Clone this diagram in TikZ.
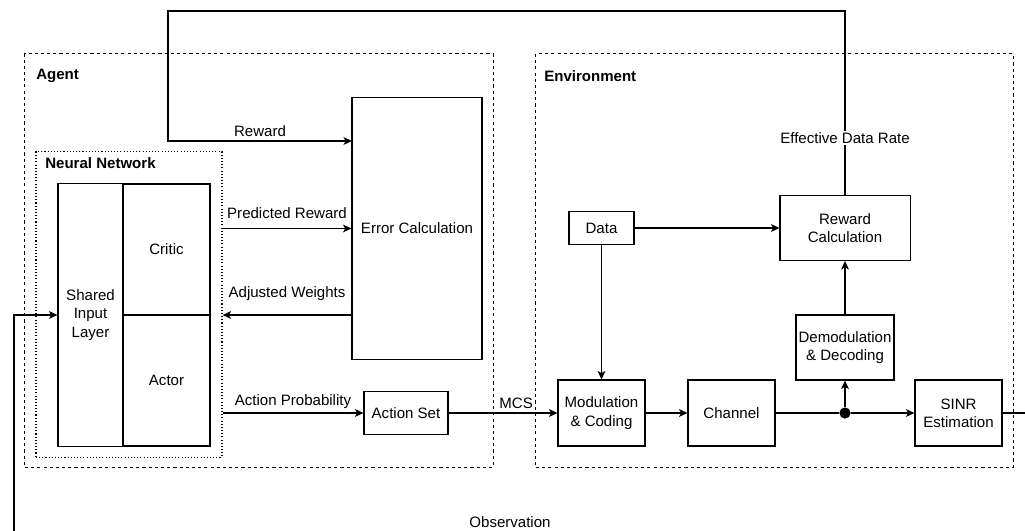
\documentclass[tikz,border=0pt]{standalone}
\usepackage{fontspec}
\setmainfont{Liberation Sans}
\usetikzlibrary{arrows.meta,positioning}

\tikzset{
  blk/.style={draw, line width=0.75pt, align=center, inner sep=1pt,
    font=\fontsize{10.7}{13}\selectfont},
  lbl/.style={font=\fontsize{10.7}{13}\selectfont, inner sep=1pt},
  title/.style={font=\fontsize{10.7}{13}\selectfont\bfseries, inner sep=0pt, anchor=west},
  region/.style={draw, line width=0.75pt, dash pattern=on 2.2pt off 2.2pt},
  nnregion/.style={draw, line width=0.75pt, dash pattern=on 0.75pt off 1.5pt},
  wire/.style={line width=0.75pt},
  flow/.style={wire, -{Stealth[length=6pt,width=5.5pt,inset=1.5pt]}},
  junction/.style={circle, fill, inner sep=0pt, minimum size=0.28cm},
}

\begin{document}
\begin{tikzpicture}[x=0.025cm, y=-0.025cm]
    \useasboundingbox (0,0) rectangle (1025,531);

    % Zones
    \node[region, minimum width=11.7cm, minimum height=10.325cm] (agent) at (259,260.5) {};
    \node[region, minimum width=11.925cm, minimum height=10.325cm] (env) at (774.5,260.5) {};
    \node[nnregion, minimum width=4.65cm, minimum height=7.625cm] (nn) at (129,304.5) {};

    \node[title] (agenttitle) at (36,76) {Agent};
    \node[title] (envtitle) at (544,76) {Environment};
    \node[title] (nntitle) at (45,163) {Neural Network};

    % Blocs de l'agent
    \node[blk, minimum width=1.625cm, minimum height=6.55cm] (shared) at (90.5,315) {Shared\\Input\\Layer};
    \node[blk, minimum width=2.175cm, minimum height=3.275cm] (critic) at (166.5,249.5) {Critic};
    \node[blk, minimum width=2.175cm, minimum height=3.275cm] (actor) at (166.5,380.5) {Actor};
    \node[blk, minimum width=3.25cm, minimum height=6.525cm] (err) at (417,228.5) {Error Calculation};
    \node[blk, minimum width=2.1cm, minimum height=1.075cm] (actset) at (406,413) {Action Set};

    % Blocs de l'environnement
    \node[blk, minimum width=1.625cm, minimum height=0.825cm] (data) at (601.5,228) {Data};
    \node[blk, minimum width=3.25cm, minimum height=1.625cm] (rcalc) at (845,228) {Reward\\Calculation};
    \node[blk, minimum width=2.175cm, minimum height=1.65cm] (modcod) at (601.5,413) {Modulation\\\& Coding};
    \node[blk, minimum width=2.175cm, minimum height=1.65cm] (channel) at (731.5,413) {Channel};
    \node[blk, minimum width=2.45cm, minimum height=1.625cm] (demod) at (845,347.5) {Demodulation\\\& Decoding};
    \node[blk, minimum width=2.175cm, minimum height=1.65cm] (sinr) at (958.5,413) {SINR\\Estimation};
    \node[junction] (split) at (845,413) {};

    % Liaisons dans l'agent
    \draw[flow] (nn.east |- err.west) -- node[lbl, above=5.3pt] (predlbl) {Predicted Reward} (err.west);
    \draw[flow] (err.west |- shared.east) -- node[lbl, above=8.9pt] (adjlbl) {Adjusted Weights} (nn.east |- shared.east);
    \draw[flow] (nn.east |- actset.west) -- node[lbl, above=1.8pt] (problbl) {Action Probability} (actset.west);
    \draw[flow] (actset.east) -- node[lbl, above=1.8pt, pos=0.62] (mcslbl) {MCS} (modcod.west);

    % Liaisons dans l'environnement
    \draw[flow] (data.east) -- (rcalc.west);
    \draw[flow] (data.south) -- (modcod.north);
    \draw[flow] (modcod.east) -- (channel.west);
    \draw[wire] (channel.east) -- (split);
    \draw[flow] (split) -- (sinr.west);
    \draw[flow] (split) -- (demod.south);
    \draw[flow] (demod.north) -- (rcalc.south);

    % Retour de la recompense
    \coordinate (fbtop) at (168,11);
    \coordinate (rewin) at (352,141);
    \draw[flow] (rcalc.north) |- (fbtop) |- node[lbl, above=1.8pt, pos=0.75] (rewlbl) {Reward} (rewin);
    \node[lbl, fill=white] (edrlbl) at (rcalc.north |- 0,138) {Effective Data Rate};

    % Observation
    \coordinate (obsin) at (14,531);
    \coordinate (obsout) at (1025,413);
    \draw[flow] (obsin) |- (shared.west);
    \draw[wire] (sinr.east) -- (obsout);
    \node[lbl] (obslbl) at (510,522) {Observation};

\end{tikzpicture}
\end{document}
